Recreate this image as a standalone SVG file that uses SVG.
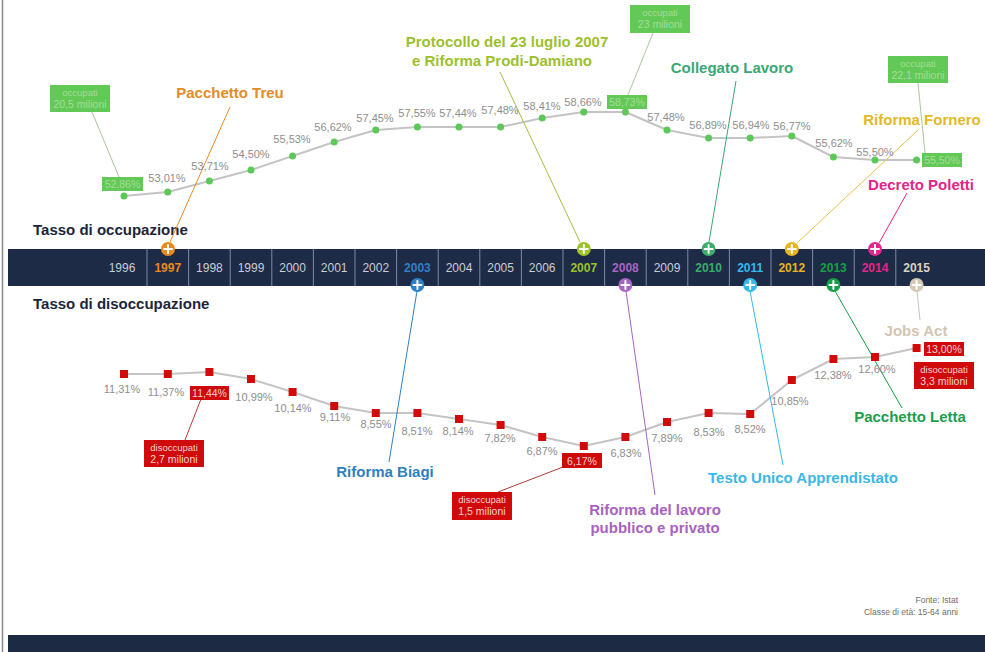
<svg xmlns="http://www.w3.org/2000/svg" width="985" height="652" viewBox="0 0 985 652">
<style>
.val{font-family:"Liberation Sans",Arial,sans-serif;font-size:11px;fill:#8e8e8e;text-anchor:middle}
.gbox{fill:#62c957}
.gtxt{font-family:"Liberation Sans",Arial,sans-serif;font-size:10.5px;fill:#a6dc96;text-anchor:middle}
.gsm{font-family:"Liberation Sans",Arial,sans-serif;font-size:9.5px;fill:#a6dc96;text-anchor:middle}
.rbox{fill:#d0090b}
.rtxt{font-family:"Liberation Sans",Arial,sans-serif;font-size:10.5px;fill:#f6d2d2;text-anchor:middle}
.rsm{font-family:"Liberation Sans",Arial,sans-serif;font-size:9.5px;fill:#f6d2d2;text-anchor:middle}
.ev{font-family:"Liberation Sans",Arial,sans-serif;font-size:15px;font-weight:bold;text-anchor:middle}
.title{font-family:"Liberation Sans",Arial,sans-serif;font-size:15px;font-weight:bold;fill:#1c2638}
.yr{font-family:"Liberation Sans",Arial,sans-serif;font-size:12px;fill:#c9cdd6;text-anchor:middle}
.yrb{font-family:"Liberation Sans",Arial,sans-serif;font-size:12px;font-weight:bold;text-anchor:middle}
.div{stroke:#7d8aa3;stroke-width:1}
.plus{stroke:#fff;stroke-width:2;stroke-linecap:round}
.dot{fill:#5cc85a}
.sq{fill:#d10a0a}
.trend{fill:none;stroke:#c4c4c4;stroke-width:2;stroke-linejoin:round}
.lead{fill:none;stroke-width:1}
.foot{font-family:"Liberation Sans",Arial,sans-serif;font-size:8.5px;fill:#6e6e6e;text-anchor:end}
</style>
<defs>
<g id="plus"><line class="plus" x1="-4" y1="0" x2="4" y2="0"/><line class="plus" x1="0" y1="-4" x2="0" y2="4"/></g>
</defs>
<rect x="0" y="0" width="985" height="652" fill="#ffffff"/>
<line x1="2.5" y1="0" x2="2.5" y2="652" stroke="#8a8a8a" stroke-width="1.5"/>

<!-- Titles -->
<g id="title-occupazione"><text class="title" x="33" y="235">Tasso di occupazione</text></g>
<g id="title-disoccupazione"><text class="title" x="33" y="309">Tasso di disoccupazione</text></g>

<!-- Trend lines -->
<g id="trend-lines">
<polyline class="trend" points="124,196 167.8,192 209.4,181 251,170 292.6,156 334.2,142 375.8,130 417.4,127 459,127 500.6,127 542.2,118 583.8,112 625.4,112 667,130 708.6,138 750.2,138 791.8,136 833.4,157 875,160 916.6,160"/>
<polyline class="trend" points="124,374 167.8,374 209.4,372 251,379 292.6,392 334.2,406 375.8,413 417.4,413 459,419 500.6,425 542.2,437 583.8,446 625.4,437 667,422 708.6,413 750.2,414 791.8,380 833.4,359 875,357 916.6,348"/>
</g>

<!-- Connectors -->
<g id="connectors">
<line class="lead" stroke="#a9c79a" x1="92" y1="112" x2="119" y2="177"/>
<line class="lead" stroke="#a9c79a" x1="653" y1="33" x2="628" y2="95"/>
<line class="lead" stroke="#a9c79a" x1="918" y1="83" x2="925" y2="153"/>
<line class="lead" stroke="#b13a3a" x1="201" y1="399" x2="185" y2="440"/>
<line class="lead" stroke="#b13a3a" x1="563" y1="467" x2="498" y2="492"/>
<line class="lead" stroke="#e38c2c" x1="230" y1="107" x2="170" y2="242"/>
<line class="lead" stroke="#a6bf45" x1="500" y1="72" x2="580" y2="242"/>
<line class="lead" stroke="#3aa875" x1="736" y1="81" x2="709" y2="242"/>
<line class="lead" stroke="#e5c24a" x1="918" y1="130" x2="797" y2="243"/>
<line class="lead" stroke="#e4268d" x1="907" y1="193" x2="879" y2="243"/>
<line class="lead" stroke="#2f80c4" x1="417" y1="291" x2="389" y2="462"/>
<line class="lead" stroke="#a865c2" x1="626" y1="291" x2="655" y2="495"/>
<line class="lead" stroke="#35b8ea" x1="750" y1="291" x2="783" y2="465"/>
<line class="lead" stroke="#16a045" x1="835" y1="291" x2="902" y2="408"/>
<line class="lead" stroke="#cfc3b0" x1="917" y1="291" x2="920" y2="320"/>
</g>

<!-- Timeline bar -->
<g id="timeline">
<rect x="8" y="249" width="977" height="37" fill="#1e2b47"/>
<line class="div" x1="147" y1="249" x2="147" y2="286"/>
<line class="div" x1="188.6" y1="249" x2="188.6" y2="286"/>
<line class="div" x1="230.2" y1="249" x2="230.2" y2="286"/>
<line class="div" x1="271.8" y1="249" x2="271.8" y2="286"/>
<line class="div" x1="313.4" y1="249" x2="313.4" y2="286"/>
<line class="div" x1="355" y1="249" x2="355" y2="286"/>
<line class="div" x1="396.6" y1="249" x2="396.6" y2="286"/>
<line class="div" x1="438.2" y1="249" x2="438.2" y2="286"/>
<line class="div" x1="479.8" y1="249" x2="479.8" y2="286"/>
<line class="div" x1="521.4" y1="249" x2="521.4" y2="286"/>
<line class="div" x1="563" y1="249" x2="563" y2="286"/>
<line class="div" x1="604.6" y1="249" x2="604.6" y2="286"/>
<line class="div" x1="646.2" y1="249" x2="646.2" y2="286"/>
<line class="div" x1="687.8" y1="249" x2="687.8" y2="286"/>
<line class="div" x1="729.4" y1="249" x2="729.4" y2="286"/>
<line class="div" x1="771" y1="249" x2="771" y2="286"/>
<line class="div" x1="812.6" y1="249" x2="812.6" y2="286"/>
<line class="div" x1="854.2" y1="249" x2="854.2" y2="286"/>
<line class="div" x1="895.8" y1="249" x2="895.8" y2="286"/>
<text class="yr" x="122" y="272">1996</text>
<text class="yrb" x="167.8" y="272" fill="#e8891e">1997</text>
<text class="yr" x="209.4" y="272">1998</text>
<text class="yr" x="251" y="272">1999</text>
<text class="yr" x="292.6" y="272">2000</text>
<text class="yr" x="334.2" y="272">2001</text>
<text class="yr" x="375.8" y="272">2002</text>
<text class="yrb" x="417.4" y="272" fill="#2f80c4">2003</text>
<text class="yr" x="459" y="272">2004</text>
<text class="yr" x="500.6" y="272">2005</text>
<text class="yr" x="542.2" y="272">2006</text>
<text class="yrb" x="583.8" y="272" fill="#9cc22a">2007</text>
<text class="yrb" x="625.4" y="272" fill="#a865c2">2008</text>
<text class="yr" x="667" y="272">2009</text>
<text class="yrb" x="708.6" y="272" fill="#3cac6a">2010</text>
<text class="yrb" x="750.2" y="272" fill="#35b8ea">2011</text>
<text class="yrb" x="791.8" y="272" fill="#e5b521">2012</text>
<text class="yrb" x="833.4" y="272" fill="#16a045">2013</text>
<text class="yrb" x="875" y="272" fill="#e4268d">2014</text>
<text class="yrb" x="916.6" y="272" fill="#d9d1c4">2015</text>
</g>

<!-- Event markers -->
<g id="marker-1997"><circle cx="168" cy="249" r="7" fill="#e8891e"/><use href="#plus" x="168" y="249"/></g>
<g id="marker-2007"><circle cx="583.8" cy="249" r="7" fill="#9cc22a"/><use href="#plus" x="583.8" y="249"/></g>
<g id="marker-2010"><circle cx="708.6" cy="249" r="7" fill="#3cac6a"/><use href="#plus" x="708.6" y="249"/></g>
<g id="marker-2012"><circle cx="791.8" cy="249" r="7" fill="#e5b521"/><use href="#plus" x="791.8" y="249"/></g>
<g id="marker-2014"><circle cx="875" cy="249" r="7" fill="#e4268d"/><use href="#plus" x="875" y="249"/></g>
<g id="marker-2003"><circle cx="417.4" cy="285" r="7" fill="#2f80c4"/><use href="#plus" x="417.4" y="285"/></g>
<g id="marker-2008"><circle cx="625.4" cy="285" r="7" fill="#a865c2"/><use href="#plus" x="625.4" y="285"/></g>
<g id="marker-2011"><circle cx="750.2" cy="285" r="7" fill="#35b8ea"/><use href="#plus" x="750.2" y="285"/></g>
<g id="marker-2013"><circle cx="833.4" cy="285" r="7" fill="#16a045"/><use href="#plus" x="833.4" y="285"/></g>
<g id="marker-2015"><circle cx="916.6" cy="285" r="7" fill="#d5c8b5"/><use href="#plus" x="916.6" y="285"/></g>

<!-- Event labels -->
<g id="ev-treu"><text class="ev" x="230" y="98" fill="#e38c2c">Pacchetto Treu</text></g>
<g id="ev-protocollo"><text class="ev" x="507" y="47" fill="#9dbf2f">Protocollo del 23 luglio 2007</text><text class="ev" x="502" y="66" fill="#9dbf2f">e Riforma Prodi-Damiano</text></g>
<g id="ev-collegato"><text class="ev" x="732" y="73" fill="#3aa875">Collegato Lavoro</text></g>
<g id="ev-fornero"><text class="ev" x="922" y="125" fill="#e2b928">Riforma Fornero</text></g>
<g id="ev-poletti"><text class="ev" x="921" y="190" fill="#e0268a">Decreto Poletti</text></g>
<g id="ev-biagi"><text class="ev" x="385" y="477" fill="#2f7fc0">Riforma Biagi</text></g>
<g id="ev-riforma-lavoro"><text class="ev" x="655" y="515" fill="#a862c0">Riforma del lavoro</text><text class="ev" x="655" y="533" fill="#a862c0">pubblico e privato</text></g>
<g id="ev-testo-unico"><text class="ev" x="803" y="483" fill="#3ab7e4">Testo Unico Apprendistato</text></g>
<g id="ev-letta"><text class="ev" x="910" y="422" fill="#1d9e4e">Pacchetto Letta</text></g>
<g id="ev-jobs-act"><text class="ev" x="916" y="336" fill="#d2c6b2">Jobs Act</text></g>

<!-- Occupation dots and values -->
<g id="occupazione-points">
<circle class="dot" cx="124" cy="196" r="3.5"/>
<circle class="dot" cx="167.8" cy="192" r="3.5"/>
<circle class="dot" cx="209.4" cy="181" r="3.5"/>
<circle class="dot" cx="251" cy="170" r="3.5"/>
<circle class="dot" cx="292.6" cy="156" r="3.5"/>
<circle class="dot" cx="334.2" cy="142" r="3.5"/>
<circle class="dot" cx="375.8" cy="130" r="3.5"/>
<circle class="dot" cx="417.4" cy="127" r="3.5"/>
<circle class="dot" cx="459" cy="127" r="3.5"/>
<circle class="dot" cx="500.6" cy="127" r="3.5"/>
<circle class="dot" cx="542.2" cy="118" r="3.5"/>
<circle class="dot" cx="583.8" cy="112" r="3.5"/>
<circle class="dot" cx="625.4" cy="112" r="3.5"/>
<circle class="dot" cx="667" cy="130" r="3.5"/>
<circle class="dot" cx="708.6" cy="138" r="3.5"/>
<circle class="dot" cx="750.2" cy="138" r="3.5"/>
<circle class="dot" cx="791.8" cy="136" r="3.5"/>
<circle class="dot" cx="833.4" cy="157" r="3.5"/>
<circle class="dot" cx="875" cy="160" r="3.5"/>
<circle class="dot" cx="916.6" cy="160" r="3.5"/>
</g>
<g id="occupazione-values">
<rect class="gbox" x="102" y="177" width="41" height="14"/><text class="gtxt" x="122.5" y="188">52,86%</text>
<text class="val" x="167" y="182">53,01%</text>
<text class="val" x="210" y="170">53,71%</text>
<text class="val" x="251" y="158">54,50%</text>
<text class="val" x="292" y="143">55,53%</text>
<text class="val" x="333" y="131">56,62%</text>
<text class="val" x="375" y="122">57,45%</text>
<text class="val" x="417" y="117">57,55%</text>
<text class="val" x="458" y="117">57,44%</text>
<text class="val" x="500" y="114">57,48%</text>
<text class="val" x="542" y="110">58,41%</text>
<text class="val" x="583" y="106">58,66%</text>
<rect class="gbox" x="607" y="95" width="40" height="14"/><text class="gtxt" x="627" y="106">58,73%</text>
<text class="val" x="666" y="121">57,48%</text>
<text class="val" x="708" y="129">56,89%</text>
<text class="val" x="751" y="129">56,94%</text>
<text class="val" x="792" y="130">56,77%</text>
<text class="val" x="834" y="147">55,62%</text>
<text class="val" x="875" y="156">55,50%</text>
<rect class="gbox" x="922" y="153" width="40" height="14"/><text class="gtxt" x="942" y="164">55,50%</text>
</g>
<g id="occupati-1996"><rect class="gbox" x="50" y="85" width="60" height="27"/><text class="gsm" x="80" y="96">occupati</text><text class="gtxt" x="80" y="108">20,5 milioni</text></g>
<g id="occupati-2008"><rect class="gbox" x="630" y="5" width="60" height="28"/><text class="gsm" x="660" y="16">occupati</text><text class="gtxt" x="660" y="28">23 milioni</text></g>
<g id="occupati-2015"><rect class="gbox" x="888" y="56" width="60" height="27"/><text class="gsm" x="918" y="67">occupati</text><text class="gtxt" x="918" y="79">22,1 milioni</text></g>

<!-- Unemployment squares and values -->
<g id="disoccupazione-points">
<rect class="sq" x="120" y="370" width="8" height="8"/>
<rect class="sq" x="163.8" y="370" width="8" height="8"/>
<rect class="sq" x="205.4" y="368" width="8" height="8"/>
<rect class="sq" x="247" y="375" width="8" height="8"/>
<rect class="sq" x="288.6" y="388" width="8" height="8"/>
<rect class="sq" x="330.2" y="402" width="8" height="8"/>
<rect class="sq" x="371.8" y="409" width="8" height="8"/>
<rect class="sq" x="413.4" y="409" width="8" height="8"/>
<rect class="sq" x="455" y="415" width="8" height="8"/>
<rect class="sq" x="496.6" y="421" width="8" height="8"/>
<rect class="sq" x="538.2" y="433" width="8" height="8"/>
<rect class="sq" x="579.8" y="442" width="8" height="8"/>
<rect class="sq" x="621.4" y="433" width="8" height="8"/>
<rect class="sq" x="663" y="418" width="8" height="8"/>
<rect class="sq" x="704.6" y="409" width="8" height="8"/>
<rect class="sq" x="746.2" y="410" width="8" height="8"/>
<rect class="sq" x="787.8" y="376" width="8" height="8"/>
<rect class="sq" x="829.4" y="355" width="8" height="8"/>
<rect class="sq" x="871" y="353" width="8" height="8"/>
<rect class="sq" x="912.6" y="344" width="8" height="8"/>
</g>
<g id="disoccupazione-values">
<text class="val" x="122" y="393">11,31%</text>
<text class="val" x="166" y="396">11,37%</text>
<rect class="rbox" x="190" y="386" width="39" height="14"/><text class="rtxt" x="209.5" y="397">11,44%</text>
<text class="val" x="254" y="401">10,99%</text>
<text class="val" x="293" y="412">10,14%</text>
<text class="val" x="335" y="421">9,11%</text>
<text class="val" x="376" y="428">8,55%</text>
<text class="val" x="417" y="435">8,51%</text>
<text class="val" x="458" y="435">8,14%</text>
<text class="val" x="500" y="442">7,82%</text>
<text class="val" x="542" y="455">6,87%</text>
<rect class="rbox" x="562" y="453" width="40" height="15"/><text class="rtxt" x="582" y="465">6,17%</text>
<text class="val" x="626" y="457">6,83%</text>
<text class="val" x="667" y="442">7,89%</text>
<text class="val" x="709" y="436">8,53%</text>
<text class="val" x="750" y="433">8,52%</text>
<text class="val" x="790" y="405">10,85%</text>
<text class="val" x="833" y="379">12,38%</text>
<text class="val" x="877" y="373">12,60%</text>
<rect class="rbox" x="924" y="342" width="40" height="14"/><text class="rtxt" x="944" y="353">13,00%</text>
</g>
<g id="disoccupati-1998"><rect class="rbox" x="144" y="440" width="60" height="27"/><text class="rsm" x="174" y="451">disoccupati</text><text class="rtxt" x="174" y="463">2,7 milioni</text></g>
<g id="disoccupati-2007"><rect class="rbox" x="452" y="492" width="60" height="28"/><text class="rsm" x="482" y="503">disoccupati</text><text class="rtxt" x="482" y="515">1,5 milioni</text></g>
<g id="disoccupati-2015"><rect class="rbox" x="914" y="362" width="60" height="27"/><text class="rsm" x="944" y="373">disoccupati</text><text class="rtxt" x="944" y="385">3,3 milioni</text></g>

<!-- Footer -->
<g id="footer">
<text class="foot" x="958" y="603">Fonte: Istat</text>
<text class="foot" x="958" y="615">Classe di età: 15-64 anni</text>
<rect x="8" y="635" width="977" height="17" fill="#1c2a44"/>
</g>
</svg>
